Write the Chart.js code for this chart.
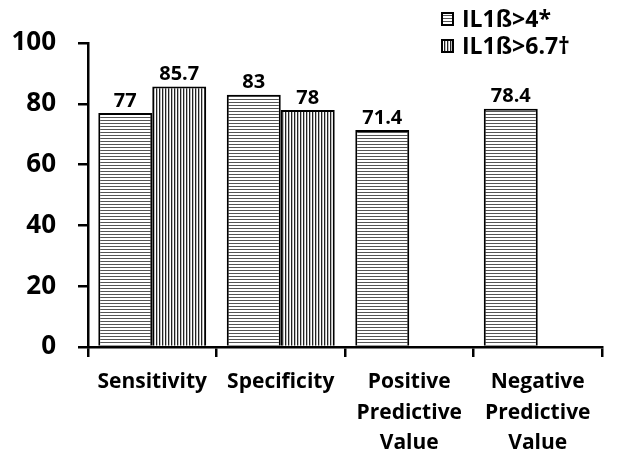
<!DOCTYPE html>
<html><head><meta charset="utf-8">
<script src="https://cdn.jsdelivr.net/npm/chart.js@4"></script>
<style>html,body{margin:0;padding:0;background:#fff;}#wrap{width:619px;height:454px;}</style>
</head><body><div id="wrap"><canvas id="c" width="619" height="454"></canvas></div>
<script>
const categories = [["Sensitivity"], ["Specificity"], ["Positive","Predictive","Value"], ["Negative","Predictive","Value"]];
const seriesNames = ["IL1ß>4*", "IL1ß>6.7†"];
const series1 = [77, 83, 71.4, 78.4];
const series2 = [85.7, 78, null, null];
const yTicks = [0, 20, 40, 60, 80, 100];

function makePattern(vertical){
  const p = document.createElement('canvas');
  p.width = 3; p.height = 3;
  const g = p.getContext('2d');
  g.fillStyle = '#fff'; g.fillRect(0,0,3,3);
  g.fillStyle = vertical ? '#222' : '#555';
  if (vertical) g.fillRect(0,0,1.3,3); else g.fillRect(0,0,3,1);
  return document.getElementById('c').getContext('2d').createPattern(p,'repeat');
}
const patH = makePattern(false), patV = makePattern(true);
const fontFam = '"Open Sans", Lato, sans-serif';

const labelPlugin = {
  id:'labels',
  afterDatasetsDraw(chart){
    const ctx = chart.ctx;
    ctx.save();
    ctx.fillStyle = '#000';
    ctx.font = 'bold 20px ' + fontFam;
    ctx.textAlign = 'center'; ctx.textBaseline = 'bottom';
    chart.data.datasets.forEach((ds,di)=>{
      const meta = chart.getDatasetMeta(di);
      meta.data.forEach((el,i)=>{
        const v = ds.data[i];
        if (v === null || v === undefined) return;
        ctx.fillText(String(v), el.x, el.y - 2);
      });
    });
    // legend
    ctx.font = 'bold 23px ' + fontFam;
    ctx.textAlign = 'left'; ctx.textBaseline = 'middle';
    chart.data.datasets.forEach((ds,di)=>{
      const y = 19 + di*27;
      const x = 442;
      ctx.fillStyle = ds.backgroundColor;
      ctx.fillRect(x, y-6, 11, 12);
      ctx.lineWidth = 2; ctx.strokeStyle = '#000';
      ctx.strokeRect(x, y-6, 11, 12);
      ctx.fillStyle = '#000';
      ctx.fillText(ds.label, x + 20, y + 1);
    });
    ctx.restore();
  }
};

new Chart(document.getElementById('c'), {
  type:'bar',
  data:{
    labels: categories,
    datasets:[
      {label: seriesNames[0], data: series1, backgroundColor: patH, borderColor:'#000', borderWidth:2, borderSkipped:'bottom', categoryPercentage:0.84, barPercentage:1},
      {label: seriesNames[1], data: series2, backgroundColor: patV, borderColor:'#000', borderWidth:2, borderSkipped:'bottom', categoryPercentage:0.84, barPercentage:1}
    ]
  },
  options:{
    responsive:false, animation:false,
    layout:{padding:{top:43, right:17, left:0, bottom:0}},
    plugins:{legend:{display:false}, tooltip:{enabled:false}},
    scales:{
      x:{
        offset:true,
        grid:{display:true, drawOnChartArea:false, offset:true, color:'#000', lineWidth:2.5, tickLength:10, tickWidth:2.5},
        border:{display:true, color:'#000', width:2.5},
        ticks:{color:'#000', font:{family:fontFam, size:21, weight:'bold', lineHeight:1.45}, padding:10, maxRotation:0, autoSkip:false},
        afterFit(s){ s.height = 107; }
      },
      y:{
        min:0, max:100,
        afterBuildTicks(s){ s.ticks = yTicks.map(v=>({value:v})); },
        grid:{display:true, drawOnChartArea:false, color:'#000', lineWidth:2.5, tickLength:10, tickWidth:2.5},
        border:{display:true, color:'#000', width:2.5},
        ticks:{color:'#000', font:{family:fontFam, size:26, weight:'bold'}, padding:22},
        afterFit(s){ s.width = 88; }
      }
    }
  },
  plugins:[labelPlugin]
});
</script></body></html>
